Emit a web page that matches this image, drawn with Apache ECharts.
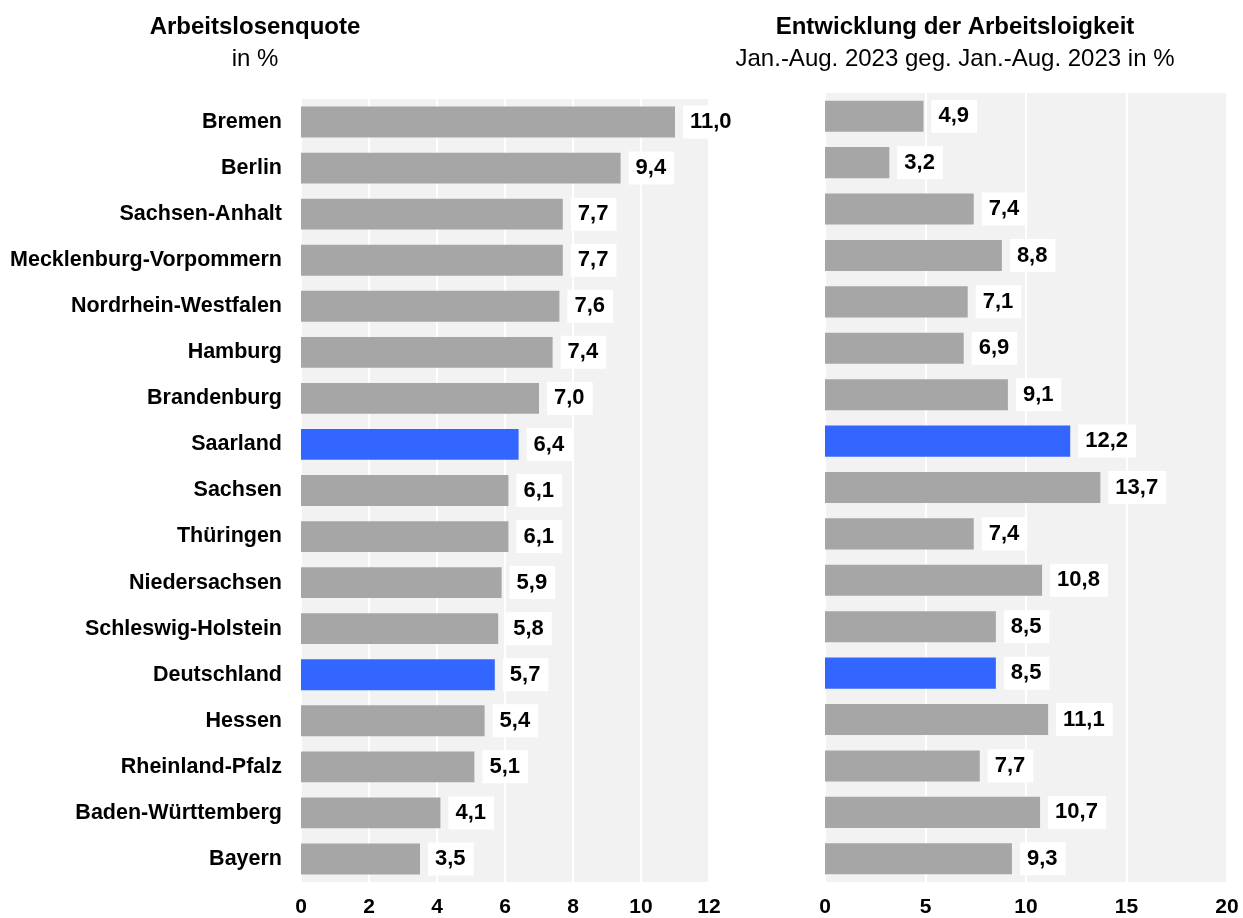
<!DOCTYPE html>
<html>
<head>
<meta charset="utf-8">
<script src="https://cdn.jsdelivr.net/npm/echarts@6/dist/echarts.min.js"></script>
<style>
  html, body { margin: 0; padding: 0; background: #fff; }
  #main { width: 1243px; height: 918px; }
</style>
</head>
<body>
<div id="main"></div>
<script>
// Bundesländer, sortiert nach Arbeitslosenquote
const laender = [
  'Bremen', 'Berlin', 'Sachsen-Anhalt', 'Mecklenburg-Vorpommern', 'Nordrhein-Westfalen',
  'Hamburg', 'Brandenburg', 'Saarland', 'Sachsen', 'Thüringen', 'Niedersachsen',
  'Schleswig-Holstein', 'Deutschland', 'Hessen', 'Rheinland-Pfalz', 'Baden-Württemberg', 'Bayern'
];
const quote = [11.0, 9.4, 7.7, 7.7, 7.6, 7.4, 7.0, 6.4, 6.1, 6.1, 5.9, 5.8, 5.7, 5.4, 5.1, 4.1, 3.5];
const entwicklung = [4.9, 3.2, 7.4, 8.8, 7.1, 6.9, 9.1, 12.2, 13.7, 7.4, 10.8, 8.5, 8.5, 11.1, 7.7, 10.7, 9.3];
const hervorgehoben = ['Saarland', 'Deutschland'];

const FONT = 'Liberation Sans, Arial, sans-serif';
const GRAU = '#a6a6a6';
const BLAU = '#3366ff';

// Balken einfärben (Saarland + Deutschland blau)
function toData(values) {
  return values.map((v, i) => ({
    value: v,
    itemStyle: { color: hervorgehoben.includes(laender[i]) ? BLAU : GRAU }
  }));
}

const valueLabel = {
  show: true,
  position: 'right',
  distance: 8,
  backgroundColor: '#fff',
  padding: [6, 8, 5, 7],
  color: '#000',
  fontWeight: 'bold',
  fontSize: 22,
  fontFamily: FONT,
  formatter: (p) => p.value.toFixed(1).replace('.', ',')
};

const xAxisBase = {
  type: 'value',
  axisLine: { show: false },
  axisTick: { show: false },
  axisLabel: { color: '#000', fontWeight: 'bold', fontSize: 21, fontFamily: FONT, margin: 15 },
  splitLine: { show: true, lineStyle: { color: '#fff', width: 2 } }
};

function titel(text, x, y, font) {
  return { type: 'text', x: x, y: y, style: { text: text, align: 'center', verticalAlign: 'middle', font: font, fill: '#000' } };
}

const chart = echarts.init(document.getElementById('main'));
chart.setOption({
  animation: false,
  backgroundColor: '#fff',
  graphic: [
    titel('Arbeitslosenquote', 255, 27, 'bold 24px ' + FONT),
    titel('in %', 255, 59, '24px ' + FONT),
    titel('Entwicklung der Arbeitsloigkeit', 955, 27, 'bold 24px ' + FONT),
    titel('Jan.-Aug. 2023 geg. Jan.-Aug. 2023 in %', 955, 59, '24px ' + FONT)
  ],
  grid: [
    { left: 301, right: 534, top: 99, bottom: 33, show: true, backgroundColor: '#f2f2f2', borderWidth: 0 },
    { left: 825, right: 16, top: 93, bottom: 33, show: true, backgroundColor: '#f2f2f2', borderWidth: 0 }
  ],
  xAxis: [
    Object.assign({}, xAxisBase, { gridIndex: 0, min: 0, max: 12, interval: 2 }),
    Object.assign({}, xAxisBase, { gridIndex: 1, min: 0, max: 20, interval: 5 })
  ],
  yAxis: [
    {
      type: 'category', gridIndex: 0, data: laender, inverse: true,
      axisLine: { show: false }, axisTick: { show: false },
      axisLabel: { color: '#000', fontWeight: 'bold', fontSize: 21.5, fontFamily: FONT, margin: 19 }
    },
    {
      type: 'category', gridIndex: 1, data: laender, inverse: true,
      axisLine: { show: false }, axisTick: { show: false }, axisLabel: { show: false }
    }
  ],
  series: [
    { type: 'bar', xAxisIndex: 0, yAxisIndex: 0, data: toData(quote), barCategoryGap: '33%', label: valueLabel },
    { type: 'bar', xAxisIndex: 1, yAxisIndex: 1, data: toData(entwicklung), barCategoryGap: '33%', label: valueLabel }
  ]
});
</script>
</body>
</html>
